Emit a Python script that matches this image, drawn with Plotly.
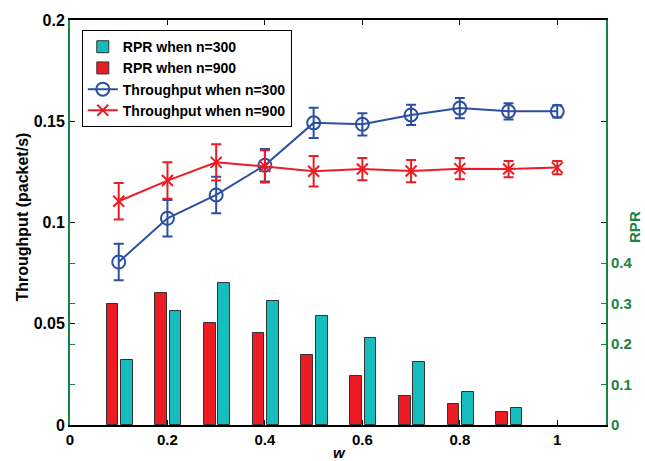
import plotly.graph_objects as go

w = [0.1, 0.2, 0.3, 0.4, 0.5, 0.6, 0.7, 0.8, 0.9, 1.0]
thr_300 = [0.0805, 0.1021, 0.1136, 0.1283, 0.1492, 0.1485, 0.1531, 0.1565, 0.1549, 0.1549]
thr_300_err = [0.009, 0.009, 0.009, 0.008, 0.0075, 0.0055, 0.005, 0.005, 0.004, 0.003]
thr_900 = [0.1105, 0.1207, 0.1297, 0.1277, 0.1253, 0.1264, 0.1254, 0.1266, 0.1264, 0.1271]
thr_900_err = [0.009, 0.009, 0.009, 0.008, 0.0075, 0.0055, 0.0055, 0.0053, 0.004, 0.0033]

w_bar = [0.1, 0.2, 0.3, 0.4, 0.5, 0.6, 0.7, 0.8, 0.9]
rpr_300 = [0.161, 0.281, 0.351, 0.307, 0.270, 0.216, 0.155, 0.081, 0.042]
rpr_900 = [0.298, 0.325, 0.251, 0.228, 0.172, 0.122, 0.072, 0.051, 0.031]

x_ticks = [0, 0.2, 0.4, 0.6, 0.8, 1]
x_labels = ["0", "0.2", "0.4", "0.6", "0.8", "1"]
y_ticks = [0, 0.05, 0.1, 0.15, 0.2]
y_labels = ["0", "0.05", "0.1", "0.15", "0.2"]
y2_ticks = [0, 0.1, 0.2, 0.3, 0.4]
y2_labels = ["0", "0.1", "0.2", "0.3", "0.4"]

CYAN = "#17BDBD"
RED = "#EC1C24"
BLUE = "#2B4FA3"
GREEN = "#178345"
FONT = "Arial, Liberation Sans, sans-serif"

fig = go.Figure()

fig.add_trace(go.Bar(
    x=w_bar, y=rpr_300, name="RPR when n=300", yaxis="y2",
    width=0.024, offset=0.0045,
    marker=dict(color=CYAN, line=dict(color="#333333", width=1)),
))
fig.add_trace(go.Bar(
    x=w_bar, y=rpr_900, name="RPR when n=900", yaxis="y2",
    width=0.024, offset=-0.025,
    marker=dict(color=RED, line=dict(color="#333333", width=1)),
))
fig.add_trace(go.Scatter(
    x=w, y=thr_300, name="Throughput when n=300", mode="lines+markers",
    line=dict(color=BLUE, width=2),
    marker=dict(symbol="circle-open", size=13, color=BLUE, line=dict(width=2)),
    error_y=dict(type="data", array=thr_300_err, color=BLUE, thickness=2, width=5),
))
fig.add_trace(go.Scatter(
    x=w, y=thr_900, name="Throughput when n=900", mode="lines+markers",
    line=dict(color=RED, width=2),
    marker=dict(symbol="x-thin-open", size=11, color=RED, line=dict(width=2, color=RED)),
    error_y=dict(type="data", array=thr_900_err, color=RED, thickness=2, width=5),
))

fig.update_layout(
    width=645, height=461,
    margin=dict(l=70, r=38, t=16, b=36),
    paper_bgcolor="white", plot_bgcolor="white",
    font=dict(family=FONT, weight="bold", color="black"),
    bargap=0, barmode="overlay",
    showlegend=True,
    legend=dict(
        x=0.022, y=0.975, xanchor="left", yanchor="top",
        bgcolor="white", bordercolor="black", borderwidth=1,
        font=dict(family=FONT, size=14, weight="bold", color="black"),
        tracegroupgap=0, itemwidth=30,
    ),
    xaxis=dict(
        range=[0, 1.1], tickvals=x_ticks, ticktext=x_labels,
        ticks="inside", ticklen=5, tickcolor="black",
        showline=True, linecolor="black", linewidth=2, mirror="ticks",
        showgrid=False, zeroline=False,
        tickfont=dict(family=FONT, size=15, weight="bold", color="black"),
    ),
    yaxis=dict(
        range=[0, 0.2], tickvals=y_ticks, ticktext=y_labels,
        ticks="inside", ticklen=5, tickcolor="black",
        showline=True, linecolor=GREEN, linewidth=2, mirror="ticks",
        showgrid=False, zeroline=False,
        tickfont=dict(family=FONT, size=16, weight="bold", color="black"),
    ),
    yaxis2=dict(
        range=[0, 1.0], tickvals=y2_ticks, ticktext=y2_labels,
        overlaying="y", side="right",
        ticks="inside", ticklen=5, tickcolor=GREEN,
        showline=True, linecolor=GREEN, linewidth=2, mirror="ticks",
        showgrid=False, zeroline=False,
        tickfont=dict(family=FONT, size=15, weight="bold", color=GREEN),
    ),
    annotations=[
        dict(text="Throughput (packet/s)", xref="paper", yref="paper",
             x=-0.089, y=0.513, xanchor="center", yanchor="middle",
             textangle=-90, showarrow=False,
             font=dict(family=FONT, size=16, weight="bold", color="black")),
        dict(text="RPR", xref="paper", yref="paper",
             x=1.053, y=0.49, xanchor="center", yanchor="middle",
             textangle=-90, showarrow=False,
             font=dict(family=FONT, size=15, weight="bold", color=GREEN)),
        dict(text="w", xref="paper", yref="paper",
             x=0.503, y=-0.068, xanchor="center", yanchor="middle",
             showarrow=False,
             font=dict(family=FONT, size=15, weight="bold", style="italic", color="black")),
    ],
)

fig.write_html("out.html")
